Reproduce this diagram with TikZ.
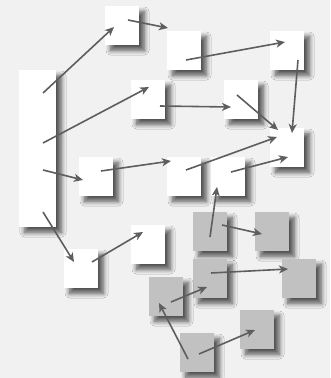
\documentclass[tikz,border=0pt]{standalone}
\usepackage{tikz}
\usetikzlibrary{arrows.meta,shadows.blur}
\definecolor{bgcol}{HTML}{F1F1F1}
\definecolor{garbage}{HTML}{C1C1C1}
\definecolor{ptr}{HTML}{5E5E5E}

\begin{document}
\begin{tikzpicture}[x=1pt,y=-1pt,
    obj/.style={inner sep=0pt,minimum width=34pt,minimum height=39pt,
      blur shadow={shadow xshift=5.5pt,shadow yshift=-5.5pt,
        shadow blur radius=4.5pt,shadow blur steps=10,shadow opacity=65}},
    live/.style={obj,fill=white},
    dead/.style={obj,fill=garbage},
    ref/.style={ptr,line width=1.6pt,-{Stealth[length=9pt,width=8pt,inset=2.5pt]}}]

  % background
  \fill[bgcol] (0,0) rectangle (330,378);
  \useasboundingbox (0,0) rectangle (330,378);

  % The root set
  \node[live,minimum width=37pt,minimum height=157pt] (root) at (37.5,148.5) {};

  % reachable objects
  \node[live] (A) at (122,25.5) {};
  \node[live] (D) at (184,50.5) {};
  \node[live] (E) at (287,50.5) {};
  \node[live] (B) at (148,99.5) {};
  \node[live] (F) at (241,99.5) {};
  \node[live] (G) at (287,147.5) {};
  \node[live] (C) at (96,176.5) {};
  \node[live] (H) at (184,176.5) {};
  \node[live] (I) at (228,176.5) {};
  \node[live] (J) at (81,268.5) {};
  \node[live] (K) at (148,244.5) {};

  % unreachable objects
  \node[dead] (M) at (210,231.5) {};
  \node[dead] (N) at (272,231.5) {};
  \node[dead] (O) at (210,278.5) {};
  \node[dead] (P) at (299,278.5) {};
  \node[dead] (L) at (166,296.5) {};
  \node[dead] (Q) at (257,329.5) {};
  \node[dead] (R) at (197,352.5) {};

  % pointers
  \draw[ref] ([shift={(5.5,-55.5)}]root.center) -- ([shift={(-8,1.5)}]A.center);
  \draw[ref] ([shift={(6,-5.5)}]A.center) -- ([shift={(-16,-22.5)}]D.center);
  \draw[ref] ([shift={(2,9.5)}]D.center) -- ([shift={(-2,-8.5)}]E.center);
  \draw[ref] ([shift={(11,9.5)}]E.center) -- ([shift={(5,-14.5)}]G.center);
  \draw[ref] ([shift={(5.5,-5.5)}]root.center) -- ([shift={(1,-12.5)}]B.center);
  \draw[ref] ([shift={(12,6.5)}]B.center) -- ([shift={(-10,7.5)}]F.center);
  \draw[ref] ([shift={(-4,-4.5)}]F.center) -- ([shift={(-9,-17.5)}]G.center);
  \draw[ref] ([shift={(5.5,21.5)}]root.center) -- ([shift={(-13,3.5)}]C.center);
  \draw[ref] ([shift={(5,-5.5)}]C.center) -- ([shift={(-13,-15.5)}]H.center);
  \draw[ref] ([shift={(2,-6.5)}]H.center) -- ([shift={(-10,-10.5)}]G.center);
  \draw[ref] ([shift={(3,-4.5)}]I.center) -- ([shift={(1,9.5)}]G.center);
  \draw[ref] ([shift={(5.5,63.5)}]root.center) -- ([shift={(-7,-6.5)}]J.center);
  \draw[ref] ([shift={(11,-6.5)}]J.center) -- ([shift={(-5,-12.5)}]K.center);

  \draw[ref] ([shift={(0,5.5)}]M.center) -- ([shift={(-11,10.5)}]I.center);
  \draw[ref] ([shift={(12,-6.5)}]M.center) -- ([shift={(-10,2.5)}]N.center);
  \draw[ref] ([shift={(1,-5.5)}]O.center) -- ([shift={(-11,-9.5)}]P.center);
  \draw[ref] ([shift={(5,5.5)}]L.center) -- ([shift={(-3,8.5)}]O.center);
  \draw[ref] ([shift={(-9,6.5)}]R.center) -- ([shift={(-7,6.5)}]L.center);
  \draw[ref] ([shift={(2,1.5)}]R.center) -- ([shift={(-2,0.5)}]Q.center);

\end{tikzpicture}
\end{document}
